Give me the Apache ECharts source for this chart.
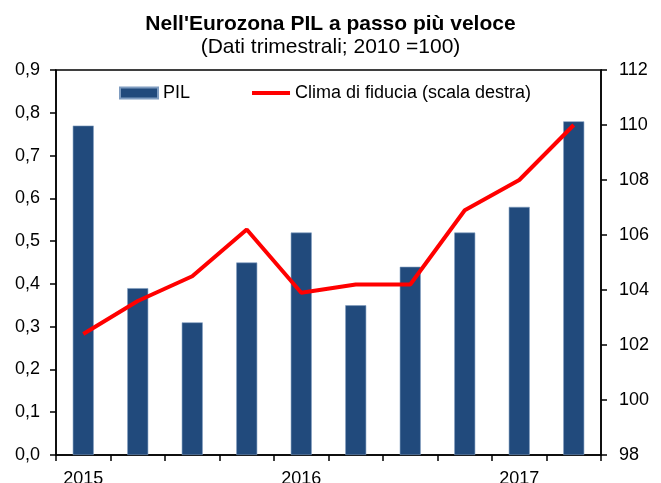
<!DOCTYPE html>
<html>
<head>
<meta charset="utf-8">
<script src="https://cdn.jsdelivr.net/npm/echarts@6/dist/echarts.min.js"></script>
<style>
html, body { margin: 0; padding: 0; background: #fff; }
#chart { width: 661px; height: 483px; }
</style>
</head>
<body>
<div id="chart"></div>
<script>
// trimestri 2015 Q1 - 2017 Q2
var quarters = ['2015 T1', '2015 T2', '2015 T3', '2015 T4', '2016 T1', '2016 T2', '2016 T3', '2016 T4', '2017 T1', '2017 T2'];
var yearLabels = ['2015', '', '', '', '2016', '', '', '', '2017', ''];
var pil = [0.77, 0.39, 0.31, 0.45, 0.52, 0.35, 0.44, 0.52, 0.58, 0.78];
var clima = [102.4, 103.6, 104.5, 106.2, 103.9, 104.2, 104.2, 106.9, 108.0, 110.0];

var font = 'Liberation Sans, Arial, sans-serif';
var chart = echarts.init(document.getElementById('chart'));

var option = {
    animation: false,
    title: {
        text: "Nell'Eurozona PIL a passo più veloce",
        subtext: '(Dati trimestrali; 2010 =100)',
        left: 'center',
        top: 9,
        itemGap: 2,
        textStyle: { fontFamily: font, fontSize: 21, fontWeight: 'bold', color: '#000' },
        subtextStyle: { fontFamily: font, fontSize: 21, color: '#000' }
    },
    legend: {
        top: 79,
        left: 114,
        itemGap: 62,
        itemWidth: 38,
        itemHeight: 11,
        textStyle: { fontFamily: font, fontSize: 18, color: '#000' },
        data: [
            { name: 'PIL', icon: 'rect' },
            { name: 'Clima di fiducia (scala destra)', icon: 'path://M0,0 L10,0 L10,1.05 L0,1.05 Z' }
        ]
    },
    grid: {
        left: 56, right: 60, top: 70, bottom: 28,
        outerBoundsMode: 'none',
        show: true, borderColor: '#000', borderWidth: 1.5
    },
    xAxis: {
        type: 'category',
        data: quarters,
        axisLine: { lineStyle: { color: '#000', width: 1.5 } },
        axisTick: { show: true, interval: 0, length: 6, lineStyle: { color: '#000', width: 1.5 } },
        axisLabel: {
            interval: 0,
            margin: 15,
            fontFamily: font,
            fontSize: 18,
            color: '#000',
            formatter: function (v, i) { return yearLabels[i]; }
        }
    },
    yAxis: [
        {
            type: 'value',
            min: 0,
            max: 0.9,
            interval: 0.1,
            axisLine: { show: true, lineStyle: { color: '#000', width: 1.5 } },
            axisTick: { show: true, length: 6, lineStyle: { color: '#000', width: 1.5 } },
            splitLine: { show: false },
            axisLabel: {
                margin: 16,
                fontFamily: font,
                fontSize: 18,
                color: '#000',
                formatter: function (v) { return v.toFixed(1).replace('.', ','); }
            }
        },
        {
            type: 'value',
            min: 98,
            max: 112,
            interval: 2,
            axisLine: { show: true, lineStyle: { color: '#000', width: 1.5 } },
            axisTick: { show: true, length: 6, lineStyle: { color: '#000', width: 1.5 } },
            splitLine: { show: false },
            axisLabel: { margin: 18, fontFamily: font, fontSize: 18, color: '#000' }
        }
    ],
    series: [
        {
            name: 'PIL',
            type: 'bar',
            data: pil,
            barWidth: 21,
            itemStyle: { color: '#214a7c', borderColor: '#7f9cc0', borderWidth: 0.6 }
        },
        {
            name: 'Clima di fiducia (scala destra)',
            type: 'line',
            yAxisIndex: 1,
            data: clima,
            symbol: 'none',
            lineStyle: { color: '#ff0000', width: 4 },
            itemStyle: { color: '#ff0000' }
        }
    ]
};
chart.setOption(option);
</script>
</body>
</html>
